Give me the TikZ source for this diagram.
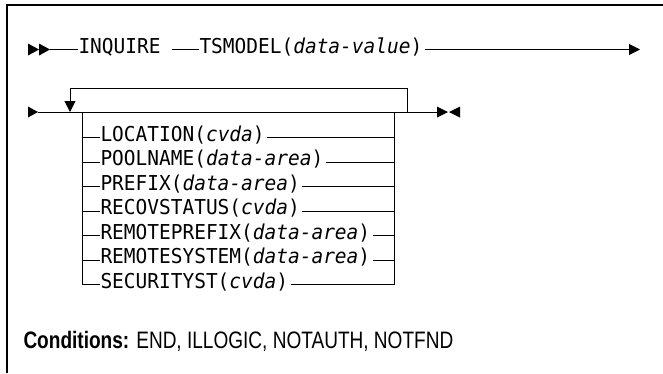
\documentclass[tikz,border=0pt]{standalone}
\usepackage{fontspec}
\usetikzlibrary{arrows.meta}
\newfontfamily\monof[FakeStretch=0.95]{DejaVu Sans Mono}
\newfontfamily\condf[FakeStretch=0.8]{Liberation Sans}
\begin{document}
\begin{tikzpicture}[x=1pt,y=-1pt,line width=1pt,
  mono/.style={font=\monof\fontsize{20.5}{22}\selectfont, inner sep=0pt, anchor=west,
    text height=0.9em, text depth=0.171em},
  cond/.style={font=\condf\fontsize{23.8}{26}\selectfont, inner sep=0pt, anchor=base west},
  tip/.style={-{Triangle[length=11pt,width=11pt]}},
  head/.style={fill=black}]
\useasboundingbox (0,0) rectangle (663,373);
% frame
\draw[line width=1.3pt] (7,373) -- (7,5) -- (663,5);
% row 1
\fill[head] (28,43.5) -- (39,49.5) -- (28,55.5) -- cycle;
\fill[head] (39,43.5) -- (50,49.5) -- (39,55.5) -- cycle;
\coordinate (s1) at (50,49.5);
\node[mono] (inq) at (78,49.5) {INQUIRE};
\coordinate (g1) at (172,49.5);
\node[mono] (tsm) at (199,49.5) {TSMODEL(\textit{data-value})};
\coordinate (e1) at (640,49.5);
\draw (s1) -- (inq.west);
\draw (g1) -- (tsm.west);
\draw[tip] ([xshift=2pt]tsm.east) -- (e1);
% row 2
\fill[head] (28,106.5) -- (38,112) -- (28,117.5) -- cycle;
\coordinate (s2) at (38,112);
\coordinate (e2) at (437,112);
\draw (s2) -- (e2);
\fill[head] (437,106.5) -- (448,112) -- (437,117.5) -- cycle;
\fill[head] (460,106.5) -- (449,112) -- (460,117.5) -- cycle;
% repeat loop
\coordinate (lr) at (407,112);
\coordinate (ll) at (70,112);
\draw[tip] (lr) -- (407,88) -- (70,88) -- (ll);
% stack
\coordinate (vl) at (82,112);
\coordinate (vr) at (394,112);
\foreach \n/\t [count=\i from 0] in {
  a/{LOCATION(\textit{cvda})},
  b/{POOLNAME(\textit{data-area})},
  c/{PREFIX(\textit{data-area})},
  d/{RECOVSTATUS(\textit{cvda})},
  e/{REMOTEPREFIX(\textit{data-area})},
  f/{REMOTESYSTEM(\textit{data-area})},
  g/{SECURITYST(\textit{cvda})}} {
  \pgfmathsetmacro\yy{137.5+24.5*\i}
  \node[mono] (\n) at (100,\yy) {\t};
  \coordinate (\n l) at (82,\yy);
  \coordinate (\n r) at (394,\yy);
  \draw (\n l) -- (\n.west);
  \draw ([xshift=2pt]\n.east) -- (\n r);
}
\draw (vl) -- (gl);
\draw (vr) -- (gr);
% conditions
\node[cond] (cnd) at (23,348) {\textbf{Conditions:} END, ILLOGIC, NOTAUTH, NOTFND};
\end{tikzpicture}
\end{document}
